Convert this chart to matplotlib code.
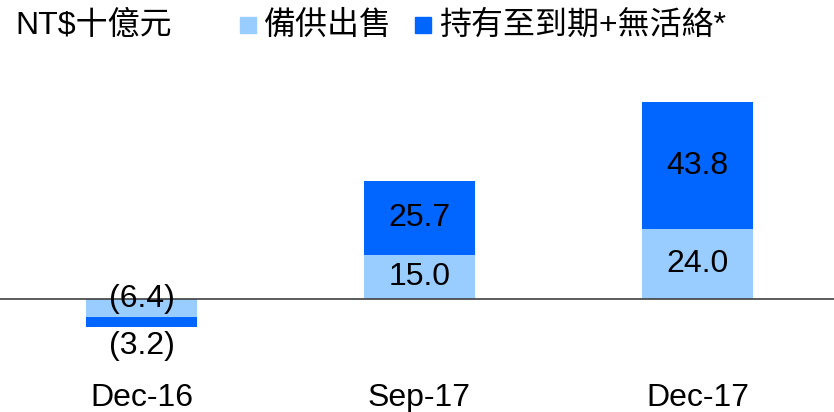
import numpy as np
import matplotlib.pyplot as plt
from matplotlib.patches import Rectangle

plt.rcParams['font.family'] = ['Liberation Sans', 'Noto Sans CJK TC', 'DejaVu Sans']

periods = ['Dec-16', 'Sep-17', 'Dec-17']
afs = [-6.4, 15.0, 24.0]           # 備供出售
htm = [-3.2, 25.7, 43.8]           # 持有至到期+無活絡*
afs_labels = ['(6.4)', '15.0', '24.0']
htm_labels = ['(3.2)', '25.7', '43.8']

light = '#99CCFF'
dark = '#0066FF'

fig = plt.figure(figsize=(8.34, 4.12), dpi=100)
ax = fig.add_axes([0, 40 / 412, 1, 372 / 412])

x = np.arange(len(periods))
w = 0.4
afs = np.array(afs)
htm = np.array(htm)

ax.bar(x, afs, w, color=light, zorder=2)
ax.bar(x, htm, w, bottom=afs, color=dark, zorder=2)
ax.axhline(0, color='#404040', lw=1.2, zorder=3)

fs = 23
for i in range(len(x)):
    if afs[i] < 0:
        ax.text(x[i], 0, afs_labels[i], ha='center', va='center', fontsize=fs, zorder=4)
        ax.annotate(htm_labels[i], (x[i], afs[i] + htm[i]), xytext=(0, -3),
                    textcoords='offset points', ha='center', va='top', fontsize=fs)
    else:
        ax.text(x[i], afs[i] / 2, afs_labels[i], ha='center', va='center', fontsize=fs, zorder=4)
        ax.text(x[i], afs[i] + htm[i] / 2, htm_labels[i], ha='center', va='center',
                fontsize=fs, zorder=4)

ax.set_xlim(-0.509, 2.491)
ax.set_ylim(-25.2, 103.1)
ax.set_xticks(x, periods, fontsize=fs)
ax.tick_params(axis='x', length=0, pad=8)
ax.set_yticks([])
for s in ax.spines.values():
    s.set_visible(False)

# unit title and legend across the top
fig.text(15 / 834, 1 - 26 / 412, 'NT$十億元', fontsize=fs, va='center', ha='left')
fig.patches.append(Rectangle((240 / 834, 1 - 33 / 412), 16 / 834, 16 / 412,
                             transform=fig.transFigure, color=light))
fig.text(264 / 834, 1 - 26 / 412, '備供出售', fontsize=fs, va='center', ha='left')
fig.patches.append(Rectangle((415 / 834, 1 - 33 / 412), 16 / 834, 16 / 412,
                             transform=fig.transFigure, color=dark))
fig.text(439 / 834, 1 - 26 / 412, '持有至到期+無活絡*', fontsize=fs, va='center', ha='left')

fig.savefig('out.png', dpi=100)
